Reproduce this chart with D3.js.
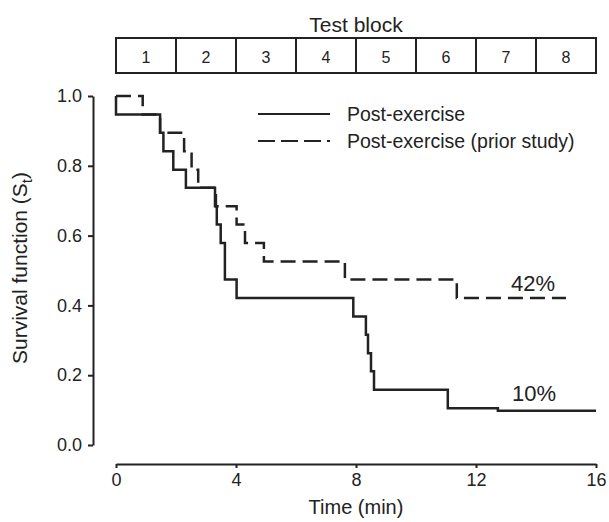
<!DOCTYPE html>
<html lang="en">
<head>
    <meta charset="UTF-8">
    <title>Survival function</title>
    <script src="https://d3js.org/d3.v7.min.js"></script>
    <style>
        body { margin: 0; background: #fff; }
        text { font-family: "Liberation Sans", Arial, sans-serif; fill: #222; }
    </style>
</head>
<body>
    <svg width="609" height="522" id="mainsvg"></svg>

    <script>
        // solid curve (post-exercise): event times (min) and survival after each event
        const postTimes = [0, 0, 1.47, 1.58, 1.91, 2.33, 3.30, 3.36, 3.49, 3.63, 4.02, 7.91, 8.33, 8.40, 8.50, 8.60, 11.06, 12.73, 16]
        const postSurv  = [1.0, 0.947, 0.895, 0.842, 0.789, 0.737, 0.684, 0.632, 0.579, 0.474, 0.421, 0.368, 0.316, 0.263, 0.211, 0.158, 0.105, 0.098, 0.098]
        // dashed curve (prior study)
        const priorTimes = [0, 0.89, 1.47, 2.27, 2.52, 2.74, 3.33, 4.02, 4.30, 4.93, 7.63, 11.36, 15]
        const priorSurv  = [1.0, 0.947, 0.895, 0.842, 0.789, 0.737, 0.684, 0.632, 0.579, 0.526, 0.474, 0.421, 0.421]
        const blocks = [1, 2, 3, 4, 5, 6, 7, 8]
        const xTicks = [0, 4, 8, 12, 16]
        const yTicks = [0, 0.2, 0.4, 0.6, 0.8, 1.0]
        const seriesNames = ["Post-exercise", "Post-exercise (prior study)"]
        const endLabels = ["10%", "42%"]

        const svg = d3.select("#mainsvg")
        const ink = "#222"
        const font = "Liberation Sans, Arial, sans-serif"

        const xScale = d3.scaleLinear().domain([0, 16]).range([116, 596])
        const yScale = d3.scaleLinear().domain([0, 1]).range([445, 96])

        // y axis
        const yAxis = d3.axisLeft(yScale).tickValues(yTicks).tickFormat(d3.format(".1f")).tickSize(5).tickSizeOuter(0)
        const gy = svg.append("g").attr("transform", "translate(93,0)").call(yAxis)
        gy.select(".domain").attr("stroke", ink).attr("stroke-width", 2)
        gy.selectAll(".tick line").attr("stroke", ink).attr("stroke-width", 2)
        gy.selectAll(".tick text").attr("font-size", 18).attr("x", -11).style("font-family", font).attr("fill", ink)

        // x axis
        const xAxis = d3.axisBottom(xScale).tickValues(xTicks).tickSize(4).tickSizeOuter(0)
        const gx = svg.append("g").attr("transform", "translate(0,464)").call(xAxis)
        gx.select(".domain").attr("stroke", ink).attr("stroke-width", 2)
        gx.selectAll(".tick line").attr("stroke", ink).attr("stroke-width", 2)
        gx.selectAll(".tick text").attr("font-size", 18).attr("y", 9).style("font-family", font).attr("fill", ink)

        svg.append("text").attr("x", xScale(8)).attr("y", 514).attr("text-anchor", "middle")
            .attr("font-size", 20).text("Time (min)")

        const yl = svg.append("text").attr("transform", "translate(27,268) rotate(-90)")
            .attr("text-anchor", "middle").attr("font-size", 21)
        yl.append("tspan").text("Survival function (S")
        yl.append("tspan").attr("font-size", 15).attr("dy", 5).text("t")
        yl.append("tspan").attr("dy", -5).text(")")

        // test block strip
        const bw = xScale(2) - xScale(0)
        const gb = svg.append("g")
        gb.selectAll("rect").data(blocks).join("rect")
            .attr("x", d => xScale((d - 1) * 2)).attr("y", 38)
            .attr("width", bw).attr("height", 35)
            .attr("fill", "none").attr("stroke", ink).attr("stroke-width", 2)
        gb.selectAll("text").data(blocks).join("text")
            .attr("x", d => xScale((d - 1) * 2) + bw / 2).attr("y", 63)
            .attr("text-anchor", "middle").attr("font-size", 16).text(d => d)
        svg.append("text").attr("x", xScale(8)).attr("y", 32).attr("text-anchor", "middle")
            .attr("font-size", 21).text("Test block")

        // curves
        const line = d3.line().x(d => xScale(d[0])).y(d => yScale(d[1])).curve(d3.curveStepAfter)
        const postData = postTimes.map((t, i) => [t, postSurv[i]])
        const priorData = priorTimes.map((t, i) => [t, priorSurv[i]])

        svg.append("path").datum(priorData).attr("d", line)
            .attr("fill", "none").attr("stroke", ink).attr("stroke-width", 2.5)
            .attr("stroke-dasharray", "15,7")
        svg.append("path").datum(postData).attr("d", line)
            .attr("fill", "none").attr("stroke", ink).attr("stroke-width", 2.5)

        // end labels
        svg.append("text").attr("x", 534).attr("y", 401).attr("text-anchor", "middle")
            .attr("font-size", 22).text(endLabels[0])
        svg.append("text").attr("x", 533).attr("y", 291).attr("text-anchor", "middle")
            .attr("font-size", 22).text(endLabels[1])

        // legend
        const lg = svg.append("g")
        seriesNames.forEach((name, i) => {
            const y = 114 + i * 27
            lg.append("line").attr("x1", 258).attr("x2", 330).attr("y1", y).attr("y2", y)
                .attr("stroke", ink).attr("stroke-width", 2)
                .attr("stroke-dasharray", i === 1 ? "17,6" : null)
            lg.append("text").attr("x", 347).attr("y", y + 7).attr("font-size", 19.5).text(name)
        })
    </script>
</body>
</html>
